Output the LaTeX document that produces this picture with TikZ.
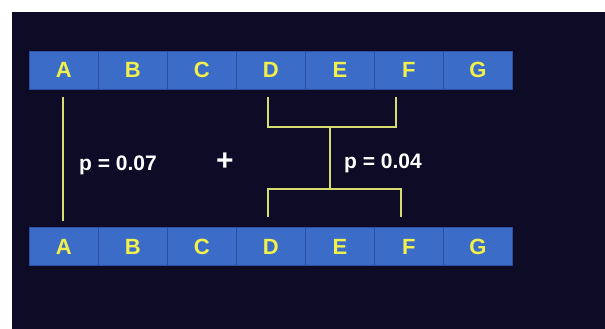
\documentclass[tikz,border=0pt]{standalone}
\usepackage{fontspec}
\setmainfont{Liberation Sans}
\definecolor{bgdark}{HTML}{0E0B26}
\definecolor{barblue}{HTML}{3B6CC8}
\definecolor{celledge}{HTML}{2A4FA0}
\definecolor{lettery}{HTML}{F2F04A}
\definecolor{linec}{HTML}{D6DE72}
\begin{document}
\begin{tikzpicture}[x=1pt,y=-1pt,
  cell/.style={draw=celledge,fill=barblue,line width=0.8pt,minimum width=69pt,minimum height=38pt,inner sep=0pt,anchor=west,
    font=\fontsize{22}{22}\selectfont\bfseries,text=lettery},
  link/.style={draw=linec,line width=1.8pt},
  ptext/.style={font=\fontsize{21}{21}\selectfont\bfseries,text=white,inner sep=0pt}]
\useasboundingbox (0,0) rectangle (605,329);
\fill[white] (0,0) rectangle (605,329);
\fill[bgdark] (12,12) rectangle (605,329);
% bars
\foreach \l [count=\i from 0] in {A,B,C,D,E,F,G}{
  \node[cell] (t\l) at ({29+69*\i},70) {\l};
  \node[cell] (b\l) at ({29+69*\i},246.5) {\l};
}
% connectors
\coordinate (a1) at (63,97);
\coordinate (a2) at (63,221);
\draw[link] (a1) -- (a2);
\coordinate (d1) at (268,97);
\coordinate (f1) at (396,97);
\coordinate (m1) at (330,127);
\coordinate (m2) at (330,189);
\coordinate (d2) at (268,217);
\coordinate (f2) at (401,217);
\draw[link] (d1) |- (m1) -| (f1);
\draw[link] (m1) -- (m2);
\draw[link] (d2) |- (m2) -| (f2);
\node[ptext,anchor=west] (p1) at (79,165) {p = 0.07};
\node[ptext,font=\fontsize{30}{30}\selectfont\bfseries] (plus) at (225,162) {+};
\node[ptext,anchor=west] (p2) at (344,163) {p = 0.04};
\end{tikzpicture}
\end{document}
